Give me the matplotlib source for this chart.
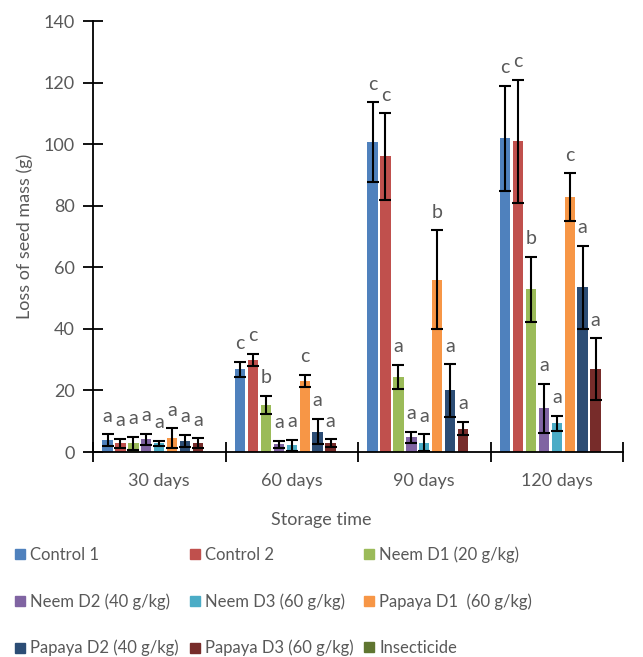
import numpy as np
import matplotlib
matplotlib.use("Agg")
import matplotlib.pyplot as plt
from matplotlib.lines import Line2D

plt.rcParams['font.family'] = ['Lato', 'DejaVu Sans']

# data
groups = ["30 days", "60 days", "90 days", "120 days"]
treatments = ["Control 1", "Control 2", "Neem D1 (20 g/kg)",
              "Neem D2 (40 g/kg)", "Neem D3 (60 g/kg)", "Papaya D1  (60 g/kg)",
              "Papaya D2 (40 g/kg)", "Papaya D3 (60 g/kg)", "Insecticide"]
colors = ["#4F81BD", "#C0504D", "#9BBB59", "#8064A2", "#4BACC6",
          "#F79646", "#2C4D75", "#772C2A", "#5F7530"]

# one row per treatment, one column per storage time
means = [
    [3.9, 26.9, 100.6, 101.9],
    [2.8, 29.9, 96.0, 100.9],
    [2.8, 15.3, 24.3, 52.8],
    [4.1, 2.5, 4.8, 14.2],
    [2.8, 2.2, 3.0, 9.3],
    [4.5, 23.1, 56.0, 82.8],
    [3.6, 6.6, 20.0, 53.5],
    [2.8, 2.8, 7.6, 26.9],
    [0.0, 0.0, 0.0, 0.0],
]
errs = [
    [1.8, 2.4, 13.0, 17.0],
    [1.4, 2.1, 14.0, 20.0],
    [2.2, 3.0, 3.9, 10.5],
    [1.9, 1.2, 1.8, 7.9],
    [0.8, 1.8, 2.7, 2.5],
    [3.2, 2.0, 16.0, 7.7],
    [2.0, 4.1, 8.5, 13.4],
    [1.6, 1.3, 2.2, 10.0],
    [0.0, 0.0, 0.0, 0.0],
]
letters = [
    ["a", "c", "c", "c"],
    ["a", "c", "c", "c"],
    ["a", "b", "a", "b"],
    ["a", "a", "a", "a"],
    ["a", "a", "a", "a"],
    ["a", "c", "b", "c"],
    ["a", "a", "a", "a"],
    ["a", "a", "a", "a"],
    ["", "", "", ""],
]

fig = plt.figure(figsize=(6.43, 6.57), dpi=100)
ax = fig.add_axes([0.1446, 0.312, 0.8244, 0.656])

grey = "#595959"
n = len(treatments)
slot = 1.0 / (n + 1.25)
x = np.arange(len(groups))

for j in range(n):
    pos = x + (j - (n - 1) / 2) * slot
    ax.bar(pos, means[j], width=slot * 0.8, color=colors[j], zorder=2)
    if j < n - 1:
        ax.errorbar(pos, means[j], yerr=errs[j], fmt="none", ecolor="black",
                    elinewidth=1.5, capsize=4.5, capthick=1.5, zorder=3)
    for k in range(len(groups)):
        if letters[j][k]:
            ax.annotate(letters[j][k], (pos[k], means[j][k] + errs[j][k]),
                        xytext=(0, 7), textcoords="offset points",
                        ha="center", va="bottom", fontsize=14, color=grey)

ax.set_xlim(-0.5, len(groups) - 0.5)
ax.set_ylim(0, 140)
ax.set_yticks(range(0, 141, 20))
ax.set_xticks(np.arange(len(groups) + 1) - 0.5)
ax.set_xticklabels([])
ax.set_xticks(x, minor=True)
ax.set_xticklabels(groups, minor=True)
ax.tick_params(axis="x", which="minor", length=0, pad=15, labelsize=13, labelcolor=grey)
ax.tick_params(axis="x", which="major", direction="inout", length=14, width=1.3)
ax.tick_params(axis="y", direction="inout", length=14, width=1.3, labelsize=13,
               labelcolor=grey, pad=6)

for s in ["top", "right"]:
    ax.spines[s].set_visible(False)
for s in ["left", "bottom"]:
    ax.spines[s].set_linewidth(1.3)

ax.set_ylabel("Loss of seed mass (g)", fontsize=13, color=grey, labelpad=8)
ax.set_xlabel("Storage time", fontsize=13, color=grey)
# the axis title sits at the figure's centre, not the axes' centre
ax.xaxis.set_label_coords(0.431, -0.14)

handles = [Line2D([], [], marker="s", linestyle="none", markersize=7,
                  markerfacecolor=c, markeredgecolor=c) for c in colors]
order = [0, 3, 6, 1, 4, 7, 2, 5, 8]
fig.legend([handles[i] for i in order], [treatments[i] for i in order],
           ncol=3, loc="lower left", bbox_to_anchor=(-0.005, -0.022),
           frameon=False, fontsize=12, labelcolor=grey, handletextpad=0.1,
           handlelength=1.0, columnspacing=0.45, labelspacing=1.8)

fig.savefig("out.png", dpi=100)
